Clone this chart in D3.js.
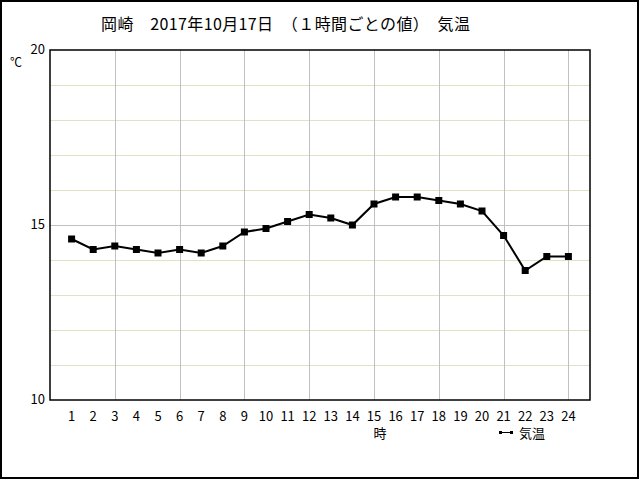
<!DOCTYPE html>
<html><head><meta charset="utf-8">
<script src="https://cdn.jsdelivr.net/npm/d3@7"></script>
<style>body{margin:0;background:#fff}svg{display:block}</style>
</head><body>
<svg id="c" width="640" height="480"></svg>
<script>
const hours = [1,2,3,4,5,6,7,8,9,10,11,12,13,14,15,16,17,18,19,20,21,22,23,24];
const temps = [14.6,14.3,14.4,14.3,14.2,14.3,14.2,14.4,14.8,14.9,15.1,15.3,15.2,15.0,15.6,15.8,15.8,15.7,15.6,15.4,14.7,13.7,14.1,14.1];
const yTicks = [10,15,20];
const minorY = [11,12,13,14,16,17,18,19];
const majorX = [3,6,9,12,15,18,21,24];
const title = "岡崎　2017年10月17日　（１時間ごとの値）　気温";
const seriesName = "気温";
const xTitle = "時";
const yUnit = "℃";

const font = "'Noto Sans CJK JP','DejaVu Sans',sans-serif";
const svg = d3.select("#c");
const L=50,R=590,T=50,B=400;
const x = d3.scaleLinear().domain([0,25]).range([L,R]);
const y = d3.scaleLinear().domain([10,20]).range([B,T]);

svg.append("rect").attr("x",1).attr("y",1).attr("width",637).attr("height",477)
  .attr("fill","#fff").attr("stroke","#000").attr("stroke-width",2);

svg.selectAll(".mh").data(minorY).enter().append("line")
  .attr("x1",L).attr("x2",R).attr("y1",d=>y(d)+0.5).attr("y2",d=>y(d)+0.5)
  .attr("stroke","#e4e0c4").attr("stroke-width",1);
svg.append("line").attr("x1",L).attr("x2",R).attr("y1",y(15)+0.5).attr("y2",y(15)+0.5)
  .attr("stroke","#c0c0c0");
svg.selectAll(".vg").data(majorX).enter().append("line")
  .attr("x1",d=>Math.round(x(d))+0.5).attr("x2",d=>Math.round(x(d))+0.5).attr("y1",T).attr("y2",B)
  .attr("stroke","#c0c0c0");

svg.append("rect").attr("x",L).attr("y",T).attr("width",R-L).attr("height",B-T)
  .attr("fill","none").attr("stroke","#000").attr("stroke-width",1.5);

svg.selectAll(".yl").data(yTicks).enter().append("text")
  .attr("x",45).attr("y",d=>y(d)+4).attr("text-anchor","end")
  .attr("font-family",font).attr("font-size",13).text(d=>d);
svg.append("text").attr("x",10).attr("y",67).attr("font-family",font).attr("font-size",12).text(yUnit);

svg.selectAll(".xl").data(hours).enter().append("text")
  .attr("x",d=>x(d)).attr("y",421).attr("text-anchor","middle")
  .attr("font-family",font).attr("font-size",13).text(d=>d);
svg.append("text").attr("x",380).attr("y",438).attr("text-anchor","middle")
  .attr("font-family",font).attr("font-size",13).text(xTitle);

svg.append("text").attr("x",101).attr("y",30).attr("font-family",font).attr("font-size",16)
  .attr("textLength",369).attr("lengthAdjust","spacing").text(title);

const line = d3.line().x((d,i)=>x(hours[i])).y(d=>y(d));
svg.append("path").datum(temps).attr("d",line).attr("fill","none")
  .attr("stroke","#000").attr("stroke-width",2);
svg.selectAll(".pt").data(temps).enter().append("rect")
  .attr("x",(d,i)=>x(hours[i])-3.5).attr("y",d=>y(d)-3.5).attr("width",7).attr("height",7).attr("fill","#000");

svg.append("line").attr("x1",500).attr("x2",512).attr("y1",432.5).attr("y2",432.5).attr("stroke","#000").attr("stroke-width",1);
svg.append("rect").attr("x",499).attr("y",431).attr("width",3).attr("height",3).attr("fill","#000");
svg.append("rect").attr("x",510).attr("y",431).attr("width",3).attr("height",3).attr("fill","#000");
svg.append("text").attr("x",519).attr("y",438).attr("font-family",font).attr("font-size",13).text(seriesName);
</script>
</body></html>
